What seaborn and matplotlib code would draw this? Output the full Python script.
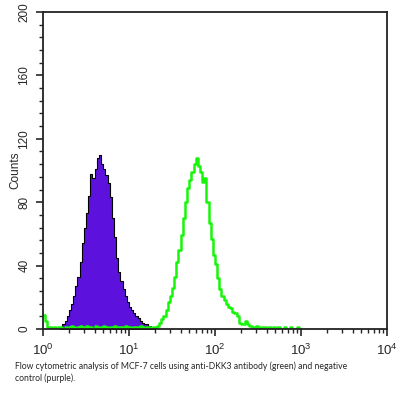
import numpy as np
import matplotlib
matplotlib.use("Agg")
import matplotlib.pyplot as plt
import seaborn as sns
from matplotlib.ticker import MultipleLocator, LogLocator

sns.set_style("ticks")
plt.rcParams['font.family'] = ['Liberation Sans', 'DejaVu Sans']

# channel grid (log10 fluorescence), 0.025 decade per channel
bin_width = 0.025
purple_start = 0.2
green_start = 0.0

# negative control (purple) counts per channel
purple_counts = [1, 3, 5, 8, 12, 16, 21, 27, 33, 42,
                 54, 64, 73, 84, 98, 95, 101, 108, 110, 104,
                 101, 97, 92, 83, 70, 58, 45, 36, 30, 25,
                 21, 17, 14, 12, 10, 8, 7, 5, 4, 3,
                 3, 2, 1, 1]

# anti-DKK3 (green) counts per channel
green_counts = [9, 5, 1, 1, 0, 1, 0, 1, 1, 0,
                1, 0, 1, 2, 1, 0, 1, 2, 1, 0,
                2, 1, 1, 0, 2, 1, 0, 1, 2, 1,
                0, 1, 1, 2, 0, 1, 1, 0, 2, 1,
                1, 0, 1, 1, 0, 2, 1, 0, 1, 1,
                0, 1, 1, 2, 4, 6, 8, 12, 17, 21,
                26, 33, 42, 50, 59, 70, 80, 89, 94, 99,
                104, 108, 103, 99, 93, 95, 80, 67, 57, 47,
                41, 32, 25, 21, 18, 16, 14, 13, 11, 10,
                8, 4, 3, 3, 5, 3, 2, 1, 1, 2,
                1, 0, 1, 1, 0, 1, 0, 1, 0, 1,
                0, 0, 1, 0, 0, 1, 0, 0, 1, 0]

caption = ("Flow cytometric analysis of MCF-7 cells using anti-DKK3 antibody (green) and negative\n"
           "control (purple).")

purple_x = 10 ** (purple_start + bin_width * (np.arange(len(purple_counts)) + 0.5))
green_x = 10 ** (green_start + bin_width * (np.arange(len(green_counts)) + 0.5))

fig = plt.figure(figsize=(4, 4), dpi=100)
ax = fig.add_axes([0.1075, 0.1775, 0.86, 0.7925])

sns.histplot(x=purple_x, weights=purple_counts, log_scale=True,
             bins=len(purple_counts), binrange=(purple_start, purple_start + bin_width * len(purple_counts)),
             element="step", fill=True, color="#5c12dc", alpha=1,
             edgecolor="black", linewidth=0.8, ax=ax)
sns.histplot(x=green_x, weights=green_counts, log_scale=True,
             bins=len(green_counts), binrange=(green_start, green_start + bin_width * len(green_counts)),
             element="step", fill=False, color="#16f50a", linewidth=1.8, ax=ax)

ax.set_xlim(1, 1e4)
ax.set_ylim(0, 200)
ax.set_xlabel("")
ax.set_ylabel("Counts", fontsize=8.5, labelpad=-2)

ax.yaxis.set_major_locator(MultipleLocator(40))
ax.yaxis.set_minor_locator(MultipleLocator(8))
ax.xaxis.set_major_locator(LogLocator(base=10, numticks=10))
ax.xaxis.set_minor_locator(LogLocator(base=10, subs=np.arange(2, 10), numticks=20))

ax.tick_params(axis="y", which="major", length=5, width=1.2, labelsize=8.5, pad=4)
ax.tick_params(axis="y", which="minor", length=3, width=1)
ax.tick_params(axis="x", which="major", length=5, width=1.2, labelsize=9.5, pad=5)
ax.tick_params(axis="x", which="minor", length=3, width=1)
for lab in ax.get_yticklabels():
    lab.set_rotation(90)
    lab.set_va("center")

for side in ["top", "right", "left", "bottom"]:
    ax.spines[side].set_visible(True)
    ax.spines[side].set_linewidth(1.3)
    ax.spines[side].set_color("#222222")

fig.text(0.0375, 0.07, caption, fontsize=6.2, family=["Lato", "DejaVu Sans"],
         va="center", ha="left", linespacing=1.3)

fig.savefig("out.png", dpi=100)
